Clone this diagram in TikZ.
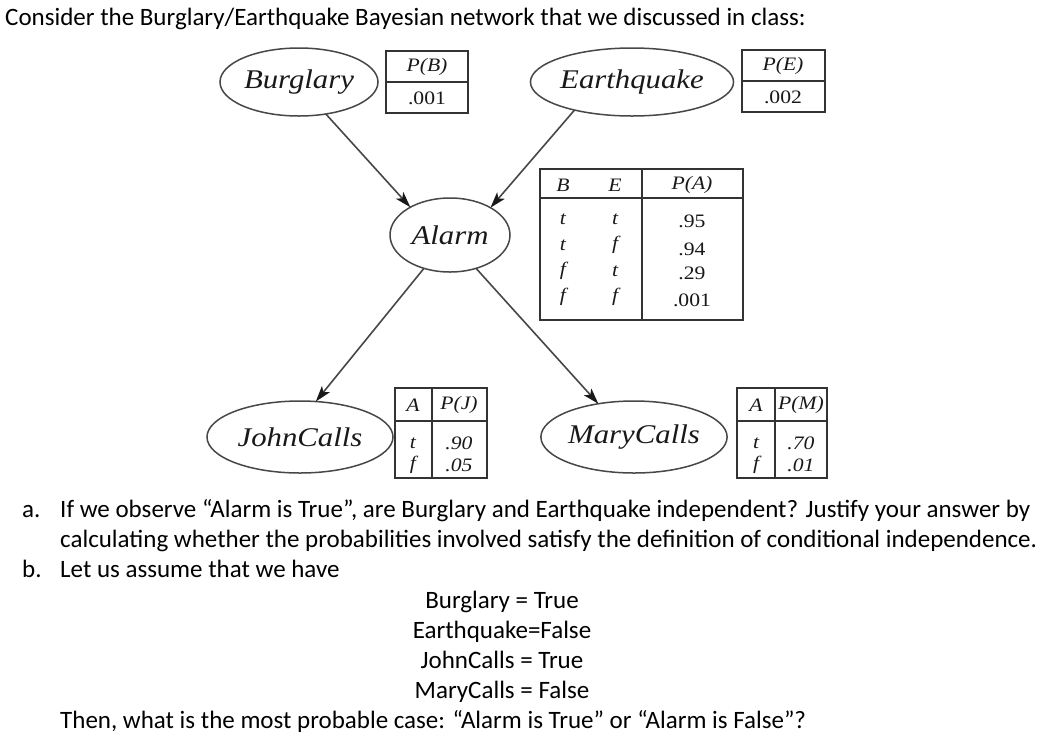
\documentclass[tikz,border=0pt]{standalone}
\usepackage{graphicx}
\usepackage{fontspec}
\setmainfont{Carlito}
\newfontfamily\tms{Liberation Serif}
\usetikzlibrary{arrows.meta,shapes.geometric}
\newcommand\strtxt[1]{\scalebox{1.14}[1]{#1}}
\begin{document}
\begin{tikzpicture}[x=1pt,y=-1pt,
  bn/.style={draw=black!72, line width=1.5pt, ellipse, inner sep=0pt, outer sep=0pt,
    font=\tms\itshape\fontsize{27}{27}\selectfont, text=black!90},
  arr/.style={draw=black!72, line width=1.6pt, -{Stealth[length=16pt,width=10pt,inset=4pt,black!90]}},
  tbl/.style={draw=black!80, line width=1.4pt},
  hdr/.style={draw=black!80, line width=2.2pt},
  tt/.style={inner sep=0pt, font=\tms\fontsize{19}{19}\selectfont, text=black!90},
  tti/.style={tt, font=\tms\itshape\fontsize{19}{19}\selectfont},
  txt/.style={anchor=base west, inner sep=0pt, font=\fontsize{25}{29}\selectfont},
  ctxt/.style={anchor=base, inner sep=0pt, font=\fontsize{25}{29}\selectfont}]
\useasboundingbox (0,0) rectangle (1062,748);
\fill[white] (0,0) rectangle (1062,748);

% ---- network nodes
\node[bn, minimum width=158pt, minimum height=68pt] (burg) at (299,82) {\strtxt{Burglary}};
\node[bn, minimum width=200pt, minimum height=68pt] (earth) at (632,82) {\strtxt{Earthquake}};
\node[bn, minimum width=120pt, minimum height=74pt] (alarm) at (450,235) {\strtxt{Alarm}};
\node[bn, minimum width=186pt, minimum height=72pt] (john) at (300,437) {\strtxt{JohnCalls}};
\node[bn, minimum width=182pt, minimum height=72pt] (mary) at (634,437) {\strtxt{MaryCalls}};

% ---- connectors
\draw[arr] (burg.310) -- (alarm.145);
\draw[arr] (earth.206) -- (alarm.34);
\draw[arr] (alarm.232) -- (john.66);
\draw[arr] (alarm.308) -- (mary.137);

% ---- P(B)
\draw[tbl] (386,51) rectangle (468,113);
\draw[tbl] (386,82) -- (468,82);
\node[tti] (pbh) at (427,67) {\strtxt{P(B)}};
\node[tt] (pbv) at (427,98) {\strtxt{.001}};

% ---- P(E)
\draw[tbl] (742,50) rectangle (825,112);
\draw[tbl] (742,81) -- (825,81);
\node[tti] (peh) at (783,66) {\strtxt{P(E)}};
\node[tt] (pev) at (783,97) {\strtxt{.002}};

% ---- P(A)
\draw[tbl] (540,169) rectangle (743,320);
\draw[hdr] (540,198) -- (743,198);
\draw[tbl] (642,169) -- (642,320);
\node[tti] (pab) at (563,185) {\strtxt{B}};
\node[tti] (pae) at (615,185) {\strtxt{E}};
\node[tti] (pah) at (692,185) {\strtxt{P(A)}};
\node[tti] (b1) at (563,219) {\strtxt{t}};
\node[tti] (e1) at (615,219) {\strtxt{t}};
\node[tti] (b2) at (563,245) {\strtxt{t}};
\node[tti] (e2) at (615,245) {\strtxt{f}};
\node[tti] (b3) at (563,271) {\strtxt{f}};
\node[tti] (e3) at (615,271) {\strtxt{t}};
\node[tti] (b4) at (563,297) {\strtxt{f}};
\node[tti] (e4) at (615,297) {\strtxt{f}};
\node[tt] (a1) at (692,221) {\strtxt{.95}};
\node[tt] (a2) at (692,249) {\strtxt{.94}};
\node[tt] (a3) at (692,273) {\strtxt{.29}};
\node[tt] (a4) at (692,300) {\strtxt{.001}};

% ---- P(J)
\draw[tbl] (395,388) rectangle (487,478);
\draw[hdr] (395,421) -- (487,421);
\draw[tbl] (432,388) -- (432,478);
\node[tti] (jah) at (413,405) {\strtxt{A}};
\node[tti] (jph) at (459,405) {\strtxt{P(J)}};
\node[tti] (jt) at (413,443) {\strtxt{t}};
\node[tti] (jf) at (413,465) {\strtxt{f}};
\node[tti] (jv1) at (459,443) {\strtxt{.90}};
\node[tti] (jv2) at (459,465) {\strtxt{.05}};

% ---- P(M)
\draw[tbl] (737,388) rectangle (827,478);
\draw[hdr] (737,421) -- (827,421);
\draw[tbl] (775,388) -- (775,478);
\node[tti] (mah) at (756,405) {\strtxt{A}};
\node[tti] (mph) at (801,405) {\strtxt{P(M)}};
\node[tti] (mt) at (756,443) {\strtxt{t}};
\node[tti] (mf) at (756,465) {\strtxt{f}};
\node[tti] (mv1) at (801,443) {\strtxt{.70}};
\node[tti] (mv2) at (801,465) {\strtxt{.01}};

% ---- text
\node[txt] (l0) at (5,25) {Consider the Burglary/Earthquake Bayesian network that we discussed in class:};
\node[txt] (la) at (22,517) {a.};
\node[txt] (l1) at (60,517) {If we observe “Alarm is True”, are Burglary and Earthquake independent? Justify your answer by};
\node[txt] (l2) at (60,547) {calculating whether the probabilities involved satisfy the definition of conditional independence.};
\node[txt] (lb) at (22,577) {b.};
\node[txt] (l3) at (60,577) {Let us assume that we have};
\node[ctxt] (c1) at (502,608) {Burglary = True};
\node[ctxt] (c2) at (502,638) {Earthquake=False};
\node[ctxt] (c3) at (502,668) {JohnCalls = True};
\node[ctxt] (c4) at (502,698) {MaryCalls = False};
\node[txt] (l4) at (60,728) {Then, what is the most probable case: “Alarm is True” or “Alarm is False”?};
\end{tikzpicture}
\end{document}
